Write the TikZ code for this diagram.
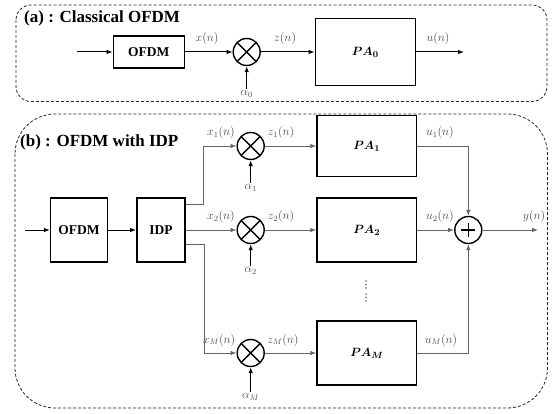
\documentclass[tikz,border=0pt]{standalone}
\usepackage{amsmath}
\usepackage[no-math]{fontspec}
\setmainfont{Liberation Serif}
\usetikzlibrary{arrows.meta}
\begin{document}
\begin{tikzpicture}[x=1pt,y=-1pt,
  >={Latex[length=6pt,width=4.5pt]},
  panel/.style={draw=black!85, line width=0.8pt, dash pattern=on 3pt off 2pt},
  ttl/.style={font=\fontsize{17}{19}\selectfont\bfseries, inner sep=0pt},
  blk/.style={draw, line width=1.5pt, inner sep=0pt, font=\fontsize{13.5}{15}\selectfont\bfseries},
  pablk/.style={blk, minimum width=99.5pt, font=\fontsize{13}{15}\selectfont},
  mul/.style={circle, draw, line width=1.4pt, minimum size=27pt, inner sep=0pt,
    path picture={\draw[line width=1.4pt] (path picture bounding box.north west) -- (path picture bounding box.south east)
      (path picture bounding box.north east) -- (path picture bounding box.south west);}},
  addc/.style={circle, draw, line width=1.4pt, minimum size=27pt, inner sep=0pt,
    path picture={\draw[line width=1.3pt] ([xshift=-7pt]path picture bounding box.center) -- ([xshift=7pt]path picture bounding box.center)
      ([yshift=-7pt]path picture bounding box.center) -- ([yshift=7pt]path picture bounding box.center);}},
  lbl/.style={font=\fontsize{12}{14}\selectfont, text=black!70, inner sep=1pt},
  lineA/.style={draw=black, line width=1pt},
  conn/.style={draw=black!60, line width=0.9pt},
  dot/.style={circle, fill=black!60, inner sep=0pt, minimum size=1.6pt},
]
\useasboundingbox (0,0) rectangle (554,414);

% ---------------- panel (a)
\draw[panel, rounded corners=15pt] (16,5) rectangle (547,101.5);
\node[ttl, anchor=west] (ta) at (24,18) {(a) : Classical OFDM};
\coordinate (ain) at (77,52);
\node[blk, minimum width=71pt, minimum height=32pt] (ofdma) at (148.8,52) {OFDM};
\node[mul] (m0) at (246.7,52) {};
\node[pablk, minimum width=100pt, minimum height=67pt] (pa0) at (365.3,52) {$\boldsymbol{PA_0}$};
\coordinate (aout) at (464,52);
\node[lbl] (al0) at (246.7,94) {$\alpha_0$};
\draw[lineA,->] (ain) -- (ofdma);
\draw[lineA,->] (ofdma) -- (m0);
\draw[lineA,->] (m0) -- (pa0);
\draw[lineA,->] (pa0) -- (aout);
\draw[lineA,->] (al0) -- (m0);
\node[lbl] (lx0) at (207,39) {$x(n)$};
\node[lbl] (lz0) at (285,39) {$z(n)$};
\node[lbl] (lu0) at (438,39) {$u(n)$};

% ---------------- panel (b)
\draw[panel, rounded corners=40pt] (15,114) rectangle (547.5,408);
\node[ttl, anchor=west] (tb) at (20,142) {(b) : OFDM with IDP};
\coordinate (bin) at (25,230);
\node[blk, minimum width=56.6pt, minimum height=64pt] (ofdmb) at (79,230) {OFDM};
\node[blk, minimum width=48.3pt, minimum height=64pt] (idp) at (160.9,230) {IDP};
\node[mul] (m1) at (250.7,146) {};
\node[mul] (m2) at (250.7,230) {};
\node[mul] (mM) at (250.7,353) {};
\node[pablk, minimum height=61pt] (pa1) at (366.8,146) {$\boldsymbol{PA_1}$};
\node[pablk, minimum height=64pt] (pa2) at (366.8,230) {$\boldsymbol{PA_2}$};
\node[pablk, minimum height=64pt] (paM) at (366.8,353) {$\boldsymbol{PA_M}$};
\node[addc] (add) at (468.3,230) {};
\coordinate (bout) at (538,230);
\node[lbl] (al1) at (250.7,188) {$\alpha_1$};
\node[lbl] (al2) at (250.7,271) {$\alpha_2$};
\node[lbl] (alM) at (250.7,397) {$\alpha_M$};
\foreach \yy [count=\i] in {281,284.5,288,294,297.5,301}
  \node[dot] (dt\i) at (366,\yy) {};

\draw[lineA,->] (bin) -- (ofdmb);
\draw[lineA,->] (ofdmb) -- (idp);
\draw[conn,->] ([yshift=26pt]idp.east) -- ++(18,0) |- (m1);
\draw[conn,->] (idp) -- (m2);
\draw[conn,->] ([yshift=-14pt]idp.east) -- ++(19,0) |- (mM);
\draw[conn,->] (m1) -- (pa1);
\draw[conn,->] (m2) -- (pa2);
\draw[conn,->] (mM) -- (paM);
\draw[conn,->] (pa1.east) -| (add);
\draw[conn,->] (pa2) -- (add);
\draw[conn,->] (paM.east) -| (add);
\draw[conn,->] (add) -- (bout);
\draw[lineA,->] (al1) -- (m1);
\draw[lineA,->] (al2) -- (m2);
\draw[lineA,->] (alM) -- (mM);

\node[lbl] (lx1) at (221,133) {$x_1(n)$};
\node[lbl] (lz1) at (281,133) {$z_1(n)$};
\node[lbl] (lx2) at (221,216.5) {$x_2(n)$};
\node[lbl] (lz2) at (281,216.5) {$z_2(n)$};
\node[lbl] (lxM) at (219,340) {$x_M(n)$};
\node[lbl] (lzM) at (283,340) {$z_M(n)$};
\node[lbl] (lu1) at (440,133) {$u_1(n)$};
\node[lbl] (lu2) at (440,216.5) {$u_2(n)$};
\node[lbl] (luM) at (441,340) {$u_M(n)$};
\node[lbl] (ly) at (534,216.5) {$y(n)$};
\end{tikzpicture}
\end{document}
